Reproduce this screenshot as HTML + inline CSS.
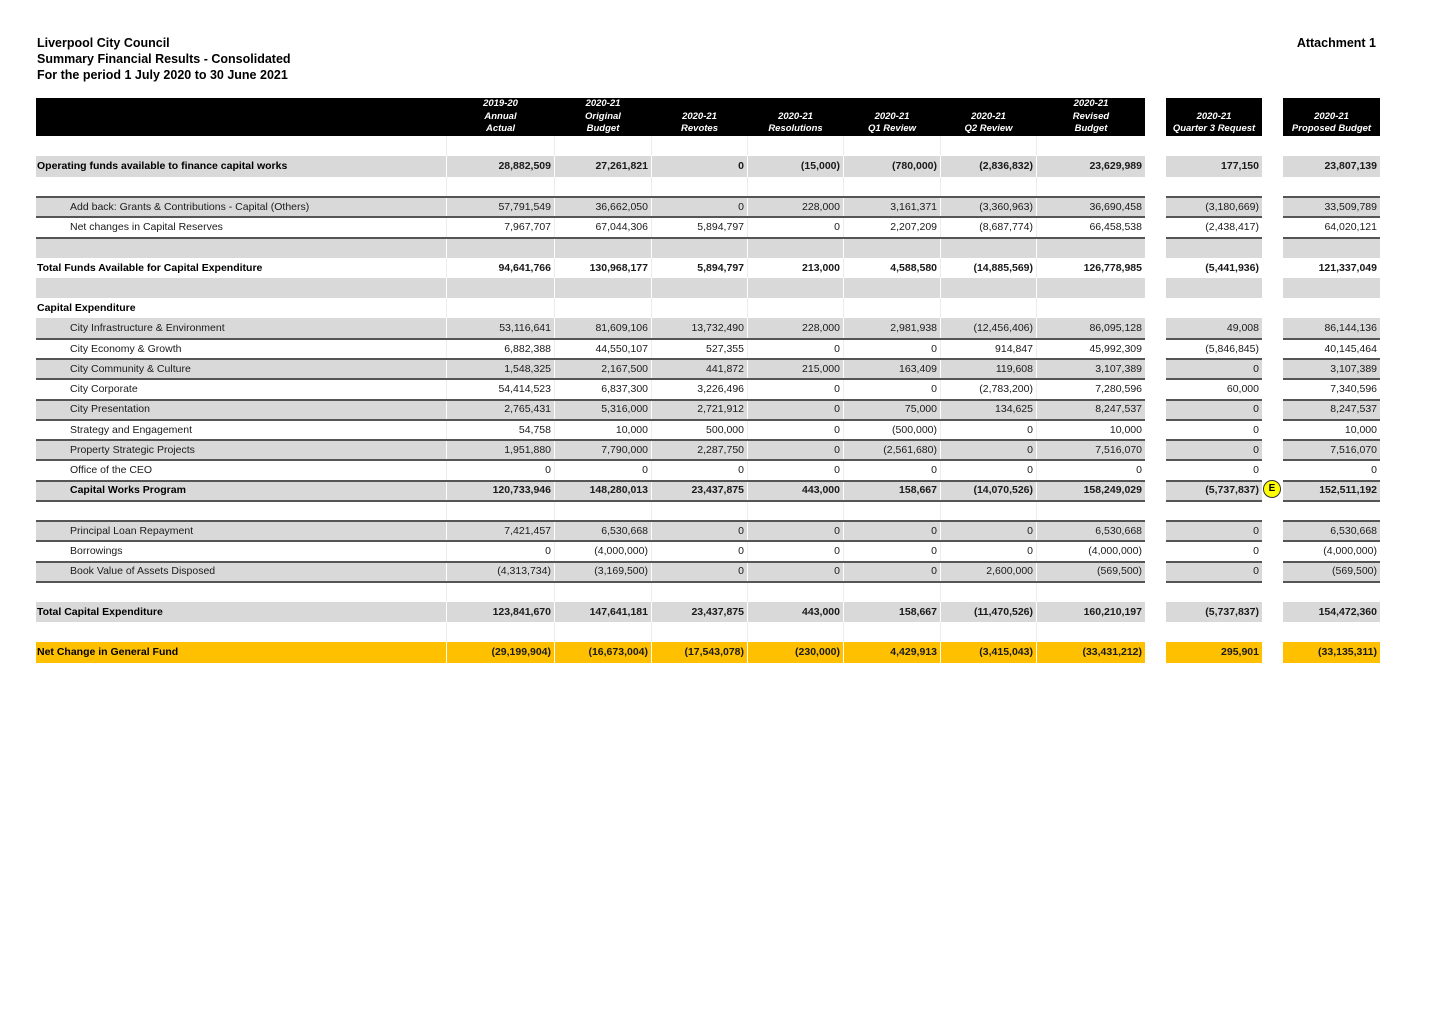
<!DOCTYPE html>
<html>
<head>
<meta charset="utf-8">
<style>
html,body{margin:0;padding:0;background:#fff;}
body{width:1446px;height:1022px;position:relative;overflow:hidden;font-family:"Liberation Sans",Arial,sans-serif;color:#111;}
.title{position:absolute;left:37px;top:35px;font-size:12.5px;font-weight:bold;line-height:16px;color:#000;}
.att{position:absolute;right:70px;top:35px;font-size:12.5px;font-weight:bold;line-height:16px;color:#000;}
.hbox{position:absolute;top:98px;height:38px;background:#000;}
.ht{position:absolute;top:98px;height:38px;display:flex;flex-direction:column;justify-content:flex-end;align-items:center;padding-bottom:0.5px;box-sizing:border-box;color:#fff;font-weight:bold;font-style:italic;font-size:9.5px;line-height:12.5px;text-align:center;white-space:nowrap;}
.r{position:absolute;left:36px;height:20.25px;display:flex;width:1344px;}
.r>div{height:100%;box-sizing:border-box;line-height:21px;white-space:nowrap;overflow:visible;}
.l{width:410px;font-size:10.5px;padding-left:1px;color:#1a1a1a;}
.l.i{padding-left:34px;}
.b{font-weight:bold;color:#000;}
.c{font-size:10.5px;text-align:right;padding-right:3px;border-left:1px solid #ececec;color:#1a1a1a;}
.c1{width:108px}.c2{width:97px}.c3{width:96px}.c4{width:96px}.c5{width:97px}.c6{width:96px}.c7{width:109px}
.q{width:96px;margin-left:21px;border-left:none !important;}
.p{width:97px;margin-left:21px;border-left:none !important;}
.g>div{background:#d9d9d9;}
.g>.c{border-left-color:#fff;}
.y>div{background:#ffc000;}
.y>.c{border-left-color:#fff;}
.w>div{background:#fff;}
.ln{position:absolute;height:2px;background:#555;}
.e{position:absolute;left:1263px;top:480px;width:16px;height:16px;border-radius:50%;background:#ffff00;border:1px solid #333;font-size:10px;font-weight:bold;line-height:16px;text-align:center;color:#000;}
</style>
</head>
<body>
<div class="title">Liverpool City Council<br>Summary Financial Results - Consolidated<br>For the period 1 July 2020 to 30 June 2021</div>
<div class="att">Attachment 1</div>

<div class="hbox" style="left:36px;width:1109px;"></div>
<div class="hbox" style="left:1166px;width:96px;"></div>
<div class="hbox" style="left:1283px;width:97px;"></div>

<div class="ht" style="left:447px;width:107px;"><span>2019-20</span><span>Annual</span><span>Actual</span></div>
<div class="ht" style="left:555px;width:96px;"><span>2020-21</span><span>Original</span><span>Budget</span></div>
<div class="ht" style="left:652px;width:95px;"><span>2020-21</span><span>Revotes</span></div>
<div class="ht" style="left:748px;width:95px;"><span>2020-21</span><span>Resolutions</span></div>
<div class="ht" style="left:844px;width:96px;"><span>2020-21</span><span>Q1 Review</span></div>
<div class="ht" style="left:941px;width:95px;"><span>2020-21</span><span>Q2 Review</span></div>
<div class="ht" style="left:1037px;width:108px;"><span>2020-21</span><span>Revised</span><span>Budget</span></div>
<div class="ht" style="left:1166px;width:96px;"><span>2020-21</span><span>Quarter 3 Request</span></div>
<div class="ht" style="left:1283px;width:97px;"><span>2020-21</span><span>Proposed Budget</span></div>

<div class="r w" style="top:136px"><div class="l"></div><div class="c c1"></div><div class="c c2"></div><div class="c c3"></div><div class="c c4"></div><div class="c c5"></div><div class="c c6"></div><div class="c c7"></div><div class="c q"></div><div class="c p"></div></div>

<div class="r g" style="top:156.25px"><div class="l b">Operating funds available to finance capital works</div><div class="c c1 b">28,882,509</div><div class="c c2 b">27,261,821</div><div class="c c3 b">0</div><div class="c c4 b">(15,000)</div><div class="c c5 b">(780,000)</div><div class="c c6 b">(2,836,832)</div><div class="c c7 b">23,629,989</div><div class="c q b">177,150</div><div class="c p b">23,807,139</div></div>

<div class="r w" style="top:176.5px"><div class="l"></div><div class="c c1"></div><div class="c c2"></div><div class="c c3"></div><div class="c c4"></div><div class="c c5"></div><div class="c c6"></div><div class="c c7"></div><div class="c q"></div><div class="c p"></div></div>

<div class="r g" style="top:196.75px"><div class="l i">Add back: Grants &amp; Contributions - Capital (Others)</div><div class="c c1">57,791,549</div><div class="c c2">36,662,050</div><div class="c c3">0</div><div class="c c4">228,000</div><div class="c c5">3,161,371</div><div class="c c6">(3,360,963)</div><div class="c c7">36,690,458</div><div class="c q">(3,180,669)</div><div class="c p">33,509,789</div></div>

<div class="r w" style="top:217px"><div class="l i">Net changes in Capital Reserves</div><div class="c c1">7,967,707</div><div class="c c2">67,044,306</div><div class="c c3">5,894,797</div><div class="c c4">0</div><div class="c c5">2,207,209</div><div class="c c6">(8,687,774)</div><div class="c c7">66,458,538</div><div class="c q">(2,438,417)</div><div class="c p">64,020,121</div></div>

<div class="r g" style="top:237.25px"><div class="l"></div><div class="c c1"></div><div class="c c2"></div><div class="c c3"></div><div class="c c4"></div><div class="c c5"></div><div class="c c6"></div><div class="c c7"></div><div class="c q"></div><div class="c p"></div></div>

<div class="r w" style="top:257.5px"><div class="l b">Total Funds Available for Capital Expenditure</div><div class="c c1 b">94,641,766</div><div class="c c2 b">130,968,177</div><div class="c c3 b">5,894,797</div><div class="c c4 b">213,000</div><div class="c c5 b">4,588,580</div><div class="c c6 b">(14,885,569)</div><div class="c c7 b">126,778,985</div><div class="c q b">(5,441,936)</div><div class="c p b">121,337,049</div></div>

<div class="r g" style="top:277.75px"><div class="l"></div><div class="c c1"></div><div class="c c2"></div><div class="c c3"></div><div class="c c4"></div><div class="c c5"></div><div class="c c6"></div><div class="c c7"></div><div class="c q"></div><div class="c p"></div></div>

<div class="r w" style="top:298px"><div class="l b">Capital Expenditure</div><div class="c c1"></div><div class="c c2"></div><div class="c c3"></div><div class="c c4"></div><div class="c c5"></div><div class="c c6"></div><div class="c c7"></div><div class="c q"></div><div class="c p"></div></div>

<div class="r g" style="top:318.25px"><div class="l i">City Infrastructure &amp; Environment</div><div class="c c1">53,116,641</div><div class="c c2">81,609,106</div><div class="c c3">13,732,490</div><div class="c c4">228,000</div><div class="c c5">2,981,938</div><div class="c c6">(12,456,406)</div><div class="c c7">86,095,128</div><div class="c q">49,008</div><div class="c p">86,144,136</div></div>

<div class="r w" style="top:338.5px"><div class="l i">City Economy &amp; Growth</div><div class="c c1">6,882,388</div><div class="c c2">44,550,107</div><div class="c c3">527,355</div><div class="c c4">0</div><div class="c c5">0</div><div class="c c6">914,847</div><div class="c c7">45,992,309</div><div class="c q">(5,846,845)</div><div class="c p">40,145,464</div></div>

<div class="r g" style="top:358.75px"><div class="l i">City Community &amp; Culture</div><div class="c c1">1,548,325</div><div class="c c2">2,167,500</div><div class="c c3">441,872</div><div class="c c4">215,000</div><div class="c c5">163,409</div><div class="c c6">119,608</div><div class="c c7">3,107,389</div><div class="c q">0</div><div class="c p">3,107,389</div></div>

<div class="r w" style="top:379px"><div class="l i">City Corporate</div><div class="c c1">54,414,523</div><div class="c c2">6,837,300</div><div class="c c3">3,226,496</div><div class="c c4">0</div><div class="c c5">0</div><div class="c c6">(2,783,200)</div><div class="c c7">7,280,596</div><div class="c q">60,000</div><div class="c p">7,340,596</div></div>

<div class="r g" style="top:399.25px"><div class="l i">City Presentation</div><div class="c c1">2,765,431</div><div class="c c2">5,316,000</div><div class="c c3">2,721,912</div><div class="c c4">0</div><div class="c c5">75,000</div><div class="c c6">134,625</div><div class="c c7">8,247,537</div><div class="c q">0</div><div class="c p">8,247,537</div></div>

<div class="r w" style="top:419.5px"><div class="l i">Strategy and Engagement</div><div class="c c1">54,758</div><div class="c c2">10,000</div><div class="c c3">500,000</div><div class="c c4">0</div><div class="c c5">(500,000)</div><div class="c c6">0</div><div class="c c7">10,000</div><div class="c q">0</div><div class="c p">10,000</div></div>

<div class="r g" style="top:439.75px"><div class="l i">Property Strategic Projects</div><div class="c c1">1,951,880</div><div class="c c2">7,790,000</div><div class="c c3">2,287,750</div><div class="c c4">0</div><div class="c c5">(2,561,680)</div><div class="c c6">0</div><div class="c c7">7,516,070</div><div class="c q">0</div><div class="c p">7,516,070</div></div>

<div class="r w" style="top:460px"><div class="l i">Office of the CEO</div><div class="c c1">0</div><div class="c c2">0</div><div class="c c3">0</div><div class="c c4">0</div><div class="c c5">0</div><div class="c c6">0</div><div class="c c7">0</div><div class="c q">0</div><div class="c p">0</div></div>

<div class="r g" style="top:480.25px"><div class="l i b">Capital Works Program</div><div class="c c1 b">120,733,946</div><div class="c c2 b">148,280,013</div><div class="c c3 b">23,437,875</div><div class="c c4 b">443,000</div><div class="c c5 b">158,667</div><div class="c c6 b">(14,070,526)</div><div class="c c7 b">158,249,029</div><div class="c q b">(5,737,837)</div><div class="c p b">152,511,192</div></div>

<div class="r w" style="top:500.5px"><div class="l"></div><div class="c c1"></div><div class="c c2"></div><div class="c c3"></div><div class="c c4"></div><div class="c c5"></div><div class="c c6"></div><div class="c c7"></div><div class="c q"></div><div class="c p"></div></div>

<div class="r g" style="top:520.75px"><div class="l i">Principal Loan Repayment</div><div class="c c1">7,421,457</div><div class="c c2">6,530,668</div><div class="c c3">0</div><div class="c c4">0</div><div class="c c5">0</div><div class="c c6">0</div><div class="c c7">6,530,668</div><div class="c q">0</div><div class="c p">6,530,668</div></div>

<div class="r w" style="top:541px"><div class="l i">Borrowings</div><div class="c c1">0</div><div class="c c2">(4,000,000)</div><div class="c c3">0</div><div class="c c4">0</div><div class="c c5">0</div><div class="c c6">0</div><div class="c c7">(4,000,000)</div><div class="c q">0</div><div class="c p">(4,000,000)</div></div>

<div class="r g" style="top:561.25px"><div class="l i">Book Value of Assets Disposed</div><div class="c c1">(4,313,734)</div><div class="c c2">(3,169,500)</div><div class="c c3">0</div><div class="c c4">0</div><div class="c c5">0</div><div class="c c6">2,600,000</div><div class="c c7">(569,500)</div><div class="c q">0</div><div class="c p">(569,500)</div></div>

<div class="r w" style="top:581.5px"><div class="l"></div><div class="c c1"></div><div class="c c2"></div><div class="c c3"></div><div class="c c4"></div><div class="c c5"></div><div class="c c6"></div><div class="c c7"></div><div class="c q"></div><div class="c p"></div></div>

<div class="r g" style="top:601.75px"><div class="l b">Total Capital Expenditure</div><div class="c c1 b">123,841,670</div><div class="c c2 b">147,641,181</div><div class="c c3 b">23,437,875</div><div class="c c4 b">443,000</div><div class="c c5 b">158,667</div><div class="c c6 b">(11,470,526)</div><div class="c c7 b">160,210,197</div><div class="c q b">(5,737,837)</div><div class="c p b">154,472,360</div></div>

<div class="r w" style="top:622px"><div class="l"></div><div class="c c1"></div><div class="c c2"></div><div class="c c3"></div><div class="c c4"></div><div class="c c5"></div><div class="c c6"></div><div class="c c7"></div><div class="c q"></div><div class="c p"></div></div>

<div class="r y" style="top:642.25px"><div class="l b">Net Change in General Fund</div><div class="c c1 b">(29,199,904)</div><div class="c c2 b">(16,673,004)</div><div class="c c3 b">(17,543,078)</div><div class="c c4 b">(230,000)</div><div class="c c5 b">4,429,913</div><div class="c c6 b">(3,415,043)</div><div class="c c7 b">(33,431,212)</div><div class="c q b">295,901</div><div class="c p b">(33,135,311)</div></div>

<div class="ln" style="left:36px;width:1109px;top:196px"></div><div class="ln" style="left:1166px;width:96px;top:196px"></div><div class="ln" style="left:1283px;width:97px;top:196px"></div>
<div class="ln" style="left:36px;width:1109px;top:216px"></div><div class="ln" style="left:1166px;width:96px;top:216px"></div><div class="ln" style="left:1283px;width:97px;top:216px"></div>
<div class="ln" style="left:36px;width:1109px;top:236.5px"></div><div class="ln" style="left:1166px;width:96px;top:236.5px"></div><div class="ln" style="left:1283px;width:97px;top:236.5px"></div>

<div class="ln" style="left:36px;width:1109px;top:337.5px"></div><div class="ln" style="left:1166px;width:96px;top:337.5px"></div><div class="ln" style="left:1283px;width:97px;top:337.5px"></div>
<div class="ln" style="left:36px;width:1109px;top:358px"></div><div class="ln" style="left:1166px;width:96px;top:358px"></div><div class="ln" style="left:1283px;width:97px;top:358px"></div>
<div class="ln" style="left:36px;width:1109px;top:378px"></div><div class="ln" style="left:1166px;width:96px;top:378px"></div><div class="ln" style="left:1283px;width:97px;top:378px"></div>
<div class="ln" style="left:36px;width:1109px;top:398.5px"></div><div class="ln" style="left:1166px;width:96px;top:398.5px"></div><div class="ln" style="left:1283px;width:97px;top:398.5px"></div>
<div class="ln" style="left:36px;width:1109px;top:418.5px"></div><div class="ln" style="left:1166px;width:96px;top:418.5px"></div><div class="ln" style="left:1283px;width:97px;top:418.5px"></div>
<div class="ln" style="left:36px;width:1109px;top:439px"></div><div class="ln" style="left:1166px;width:96px;top:439px"></div><div class="ln" style="left:1283px;width:97px;top:439px"></div>
<div class="ln" style="left:36px;width:1109px;top:459px"></div><div class="ln" style="left:1166px;width:96px;top:459px"></div><div class="ln" style="left:1283px;width:97px;top:459px"></div>
<div class="ln" style="left:36px;width:1109px;top:479.5px"></div><div class="ln" style="left:1166px;width:96px;top:479.5px"></div><div class="ln" style="left:1283px;width:97px;top:479.5px"></div>
<div class="ln" style="left:36px;width:1109px;top:499.5px"></div><div class="ln" style="left:1166px;width:96px;top:499.5px"></div><div class="ln" style="left:1283px;width:97px;top:499.5px"></div>

<div class="ln" style="left:36px;width:1109px;top:520px"></div><div class="ln" style="left:1166px;width:96px;top:520px"></div><div class="ln" style="left:1283px;width:97px;top:520px"></div>
<div class="ln" style="left:36px;width:1109px;top:540px"></div><div class="ln" style="left:1166px;width:96px;top:540px"></div><div class="ln" style="left:1283px;width:97px;top:540px"></div>
<div class="ln" style="left:36px;width:1109px;top:560.5px"></div><div class="ln" style="left:1166px;width:96px;top:560.5px"></div><div class="ln" style="left:1283px;width:97px;top:560.5px"></div>
<div class="ln" style="left:36px;width:1109px;top:580.5px"></div><div class="ln" style="left:1166px;width:96px;top:580.5px"></div><div class="ln" style="left:1283px;width:97px;top:580.5px"></div>

<div class="e">E</div>
</body>
</html>
